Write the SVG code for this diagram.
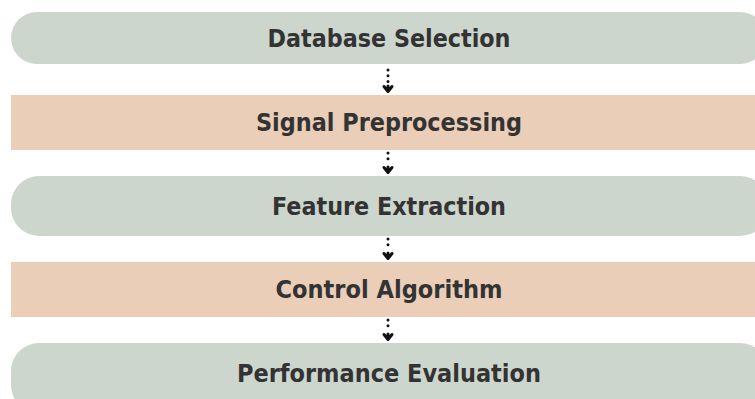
<svg xmlns="http://www.w3.org/2000/svg" width="755" height="399" viewBox="0 0 755 399">
  <defs>
    <style>
      .pill { fill: #CCD6CD; }
      .band { fill: #EACEB8; }
      .label { font-family: "DejaVu Sans", "Open Sans", sans-serif; font-weight: bold; font-size: 24px; fill: #333333; text-anchor: middle; }
      .flow { stroke: #111111; stroke-width: 3; stroke-linecap: round; stroke-dasharray: 0.1 5.6; fill: none; }
      .head { stroke: #111111; stroke-width: 3; stroke-linecap: round; stroke-linejoin: round; fill: none; }
    </style>
  </defs>
  <rect width="755" height="399" fill="#FFFFFF"/>

  <g id="database-selection">
    <rect class="pill" x="11" y="12" width="755" height="52" rx="26"/>
    <text class="label" x="389" y="47" textLength="243" lengthAdjust="spacingAndGlyphs">Database Selection</text>
  </g>
  <g id="signal-preprocessing">
    <rect class="band" x="11" y="95" width="750" height="55"/>
    <text class="label" x="389" y="131" textLength="266" lengthAdjust="spacingAndGlyphs">Signal Preprocessing</text>
  </g>
  <g id="feature-extraction">
    <rect class="pill" x="11" y="176" width="757" height="60" rx="28"/>
    <text class="label" x="389" y="215" textLength="234" lengthAdjust="spacingAndGlyphs">Feature Extraction</text>
  </g>
  <g id="control-algorithm">
    <rect class="band" x="11" y="262" width="750" height="55"/>
    <text class="label" x="389" y="298" textLength="227" lengthAdjust="spacingAndGlyphs">Control Algorithm</text>
  </g>
  <g id="performance-evaluation">
    <rect class="pill" x="11" y="343" width="757" height="70" rx="28"/>
    <text class="label" x="389" y="382" textLength="304" lengthAdjust="spacingAndGlyphs">Performance Evaluation</text>
  </g>

  <g id="connectors">
    <line class="flow" x1="388" y1="70" x2="388" y2="83"/>
    <path class="head" d="M384 86.5 L388 91.5 L392 86.5 M388 86 L388 91"/>
    <line class="flow" x1="388" y1="153" x2="388" y2="164"/>
    <path class="head" d="M384 167.5 L388 172.5 L392 167.5 M388 167 L388 172"/>
    <line class="flow" x1="388" y1="239" x2="388" y2="250"/>
    <path class="head" d="M384 253.5 L388 258.5 L392 253.5 M388 253 L388 258"/>
    <line class="flow" x1="388" y1="320" x2="388" y2="331"/>
    <path class="head" d="M384 334.5 L388 339.5 L392 334.5 M388 334 L388 339"/>
  </g>
</svg>
